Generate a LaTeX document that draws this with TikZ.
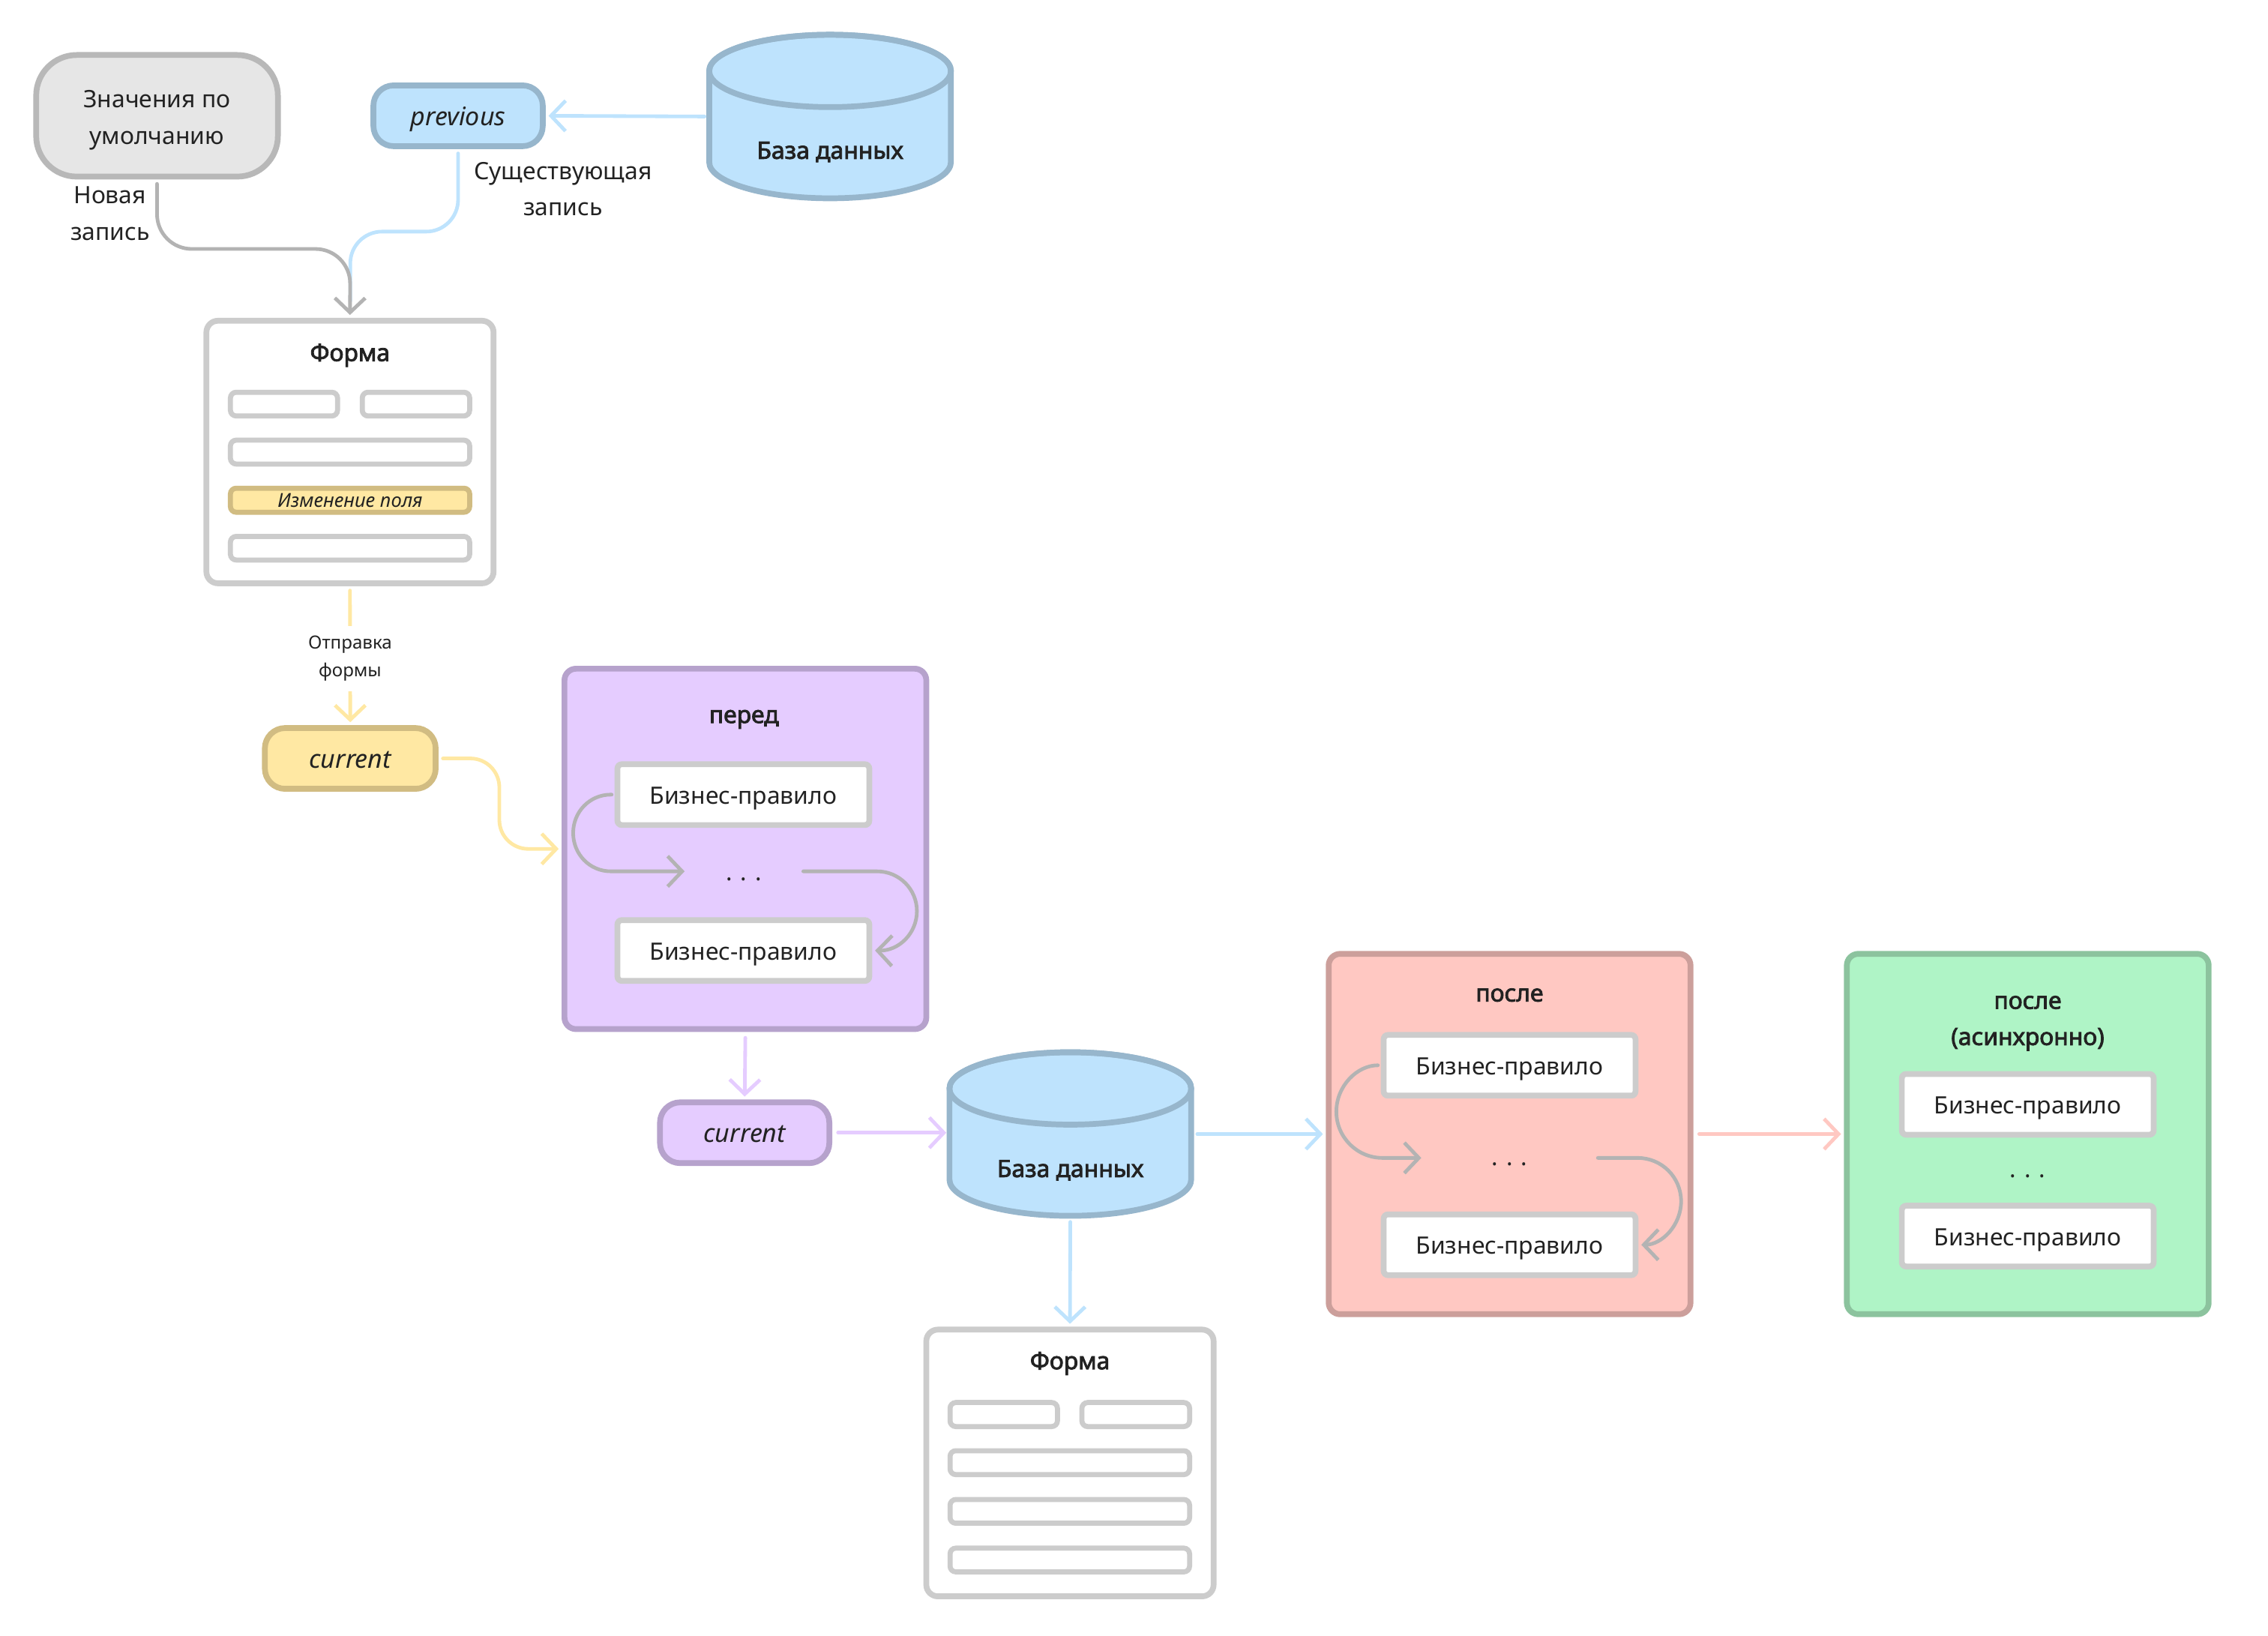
\documentclass[tikz,border=0pt]{standalone}
\usepackage{fontspec}
\setmainfont{Noto Sans}[AutoFakeBold=2.6]
\usetikzlibrary{arrows.meta}
\definecolor{txt}{HTML}{222222}
\definecolor{gfill}{HTML}{E6E6E6}
\definecolor{gdraw}{HTML}{B8B8B8}
\definecolor{bfill}{HTML}{BEE3FD}
\definecolor{bdraw}{HTML}{97B6CC}
\definecolor{yfill}{HTML}{FFE8A3}
\definecolor{ydraw}{HTML}{D1BC82}
\definecolor{pfill}{HTML}{E5CCFF}
\definecolor{pdraw}{HTML}{B6A2CC}
\definecolor{rfill}{HTML}{FFC8C2}
\definecolor{rdraw}{HTML}{CC9F9B}
\definecolor{grfill}{HTML}{AFF4C6}
\definecolor{grdraw}{HTML}{8CC39E}
\definecolor{rulec}{HTML}{CCCCCC}
\definecolor{conn}{HTML}{B3B3B3}
\definecolor{bline}{HTML}{BEE3FD}
\definecolor{yline}{HTML}{FFE8A3}
\definecolor{pline}{HTML}{E5CCFF}
\definecolor{rline}{HTML}{FFC8C2}
\begin{document}
\begin{tikzpicture}[x=1pt,y=-1pt,
  every node/.style={text=txt, inner sep=0pt, align=center},
  txtbase/.style={font=\fontsize{16.5}{25}\selectfont},
  ttl/.style={font=\bfseries\fontsize{16.5}{25}\selectfont},
  ital/.style={font=\itshape\fontsize{17.6}{25}\selectfont},
  smalltxt/.style={font=\fontsize{12.5}{19}\selectfont},
  pill/.style={draw, line width=4pt, rounded corners=14pt, minimum width=117pt, minimum height=42pt, ital, text height=13.5pt, text depth=0pt},
  panel/.style={draw, line width=4pt, rounded corners=8pt, minimum width=250pt, minimum height=249pt},
  formbox/.style={draw=rulec, fill=white, line width=4pt, rounded corners=8pt},
  field/.style={draw=rulec, fill=white, line width=3.5pt, rounded corners=4pt},
  rulebox/.style={draw=rulec, fill=white, line width=4pt, rounded corners=3pt, minimum width=174pt, minimum height=42pt, txtbase, text height=13pt, text depth=0pt},
  dbbody/.style={fill=bfill, draw=bdraw, line width=4pt, line join=round},
  link/.style={line width=2.5pt, line cap=round, line join=round},
  arr/.style={link, -{Straight Barb[length=10pt,width=21pt]}},
]
\useasboundingbox (0,0) rectangle (1567,1129.8);

% ---------- top-left ----------
\node[draw=gdraw, fill=gfill, line width=4pt, rounded corners=28pt, minimum width=167pt, minimum height=84pt] (defaults) at (108.5,80) {};
\node[txtbase] (defaultstxt) at (108.5,83) {Значения по\\умолчанию};
\node[pill, draw=bdraw, fill=bfill] (prev) at (316.5,80) {previous};
\node[txtbase] (newlbl) at (76,147.5) {Новая\\запись};
\node[txtbase] (exlbl) at (389,130.5) {Существующая\\запись};

% database 1
\node[minimum width=167pt, minimum height=113pt] (db1) at (573.5,80.5) {};
\filldraw[dbbody] (490,49) -- (490,112) .. controls (490,125.8) and (527.4,137) .. (573.5,137) .. controls (619.6,137) and (657,125.8) .. (657,112) -- (657,49) .. controls (657,35.2) and (619.6,24) .. (573.5,24) .. controls (527.4,24) and (490,35.2) .. (490,49) -- cycle;
\draw[bdraw, line width=4pt] (573.5,49) ellipse [x radius=83.5pt, y radius=25pt];
\node[ttl] (db1lbl) at (573.5,105) {База данных};

% form 1
\node[formbox, minimum width=198.4pt, minimum height=181.4pt] (form1) at (241.8,312.3) {};
\node[ttl] (form1ttl) at (241.8,245.5) {Форма};
\draw[field] (159.2,271) rectangle (233.2,287.4);
\draw[field] (250.3,271) rectangle (324.5,287.4);
\draw[field] (159.2,304.1) rectangle (324.5,320.6);
\node[field, fill=yfill, draw=ydraw, minimum width=165.3pt, minimum height=16.6pt, font=\itshape\fontsize{13.3}{15}\selectfont] (chg) at (241.85,345.6) {Изменение поля};
\draw[field] (159.2,370.6) rectangle (324.5,386.9);

% current (yellow)
\node[pill, draw=ydraw, fill=yfill, minimum width=118pt] (cur1) at (242,524) {current};

% ---------- перед ----------
\node[panel, draw=pdraw, fill=pfill] (pered) at (515,586.5) {};
\node[ttl] (peredttl) at (514,497) {перед};
\node[rulebox] (pr1) at (513.6,549) {Бизнес-правило};
\node[rulebox] (pr2) at (513.6,656.7) {Бизнес-правило};
\node[txtbase] (pdots) at (514,607.5) {. . .};

% current (purple)
\node[pill, draw=pdraw, fill=pfill] (cur2) at (514.5,782.6) {current};

% database 2
\node[minimum width=167pt, minimum height=113pt] (db2) at (739.5,783.5) {};
\filldraw[dbbody] (656,752) -- (656,815) .. controls (656,828.8) and (693.4,840) .. (739.5,840) .. controls (785.6,840) and (823,828.8) .. (823,815) -- (823,752) .. controls (823,738.2) and (785.6,727) .. (739.5,727) .. controls (693.4,727) and (656,738.2) .. (656,752) -- cycle;
\draw[bdraw, line width=4pt] (739.5,752) ellipse [x radius=83.5pt, y radius=25pt];
\node[ttl] (db2lbl) at (739.5,808.5) {База данных};

% form 2
\node[formbox, minimum width=198.5pt, minimum height=184.3pt] (form2) at (739.25,1010.75) {};
\node[ttl] (form2ttl) at (739.25,942) {Форма};
\draw[field] (656.4,969) rectangle (730.6,985.6);
\draw[field] (747.5,969) rectangle (821.9,985.6);
\draw[field] (656.4,1002.3) rectangle (821.9,1018.8);
\draw[field] (656.4,1036) rectangle (821.9,1052.4);
\draw[field] (656.4,1069.6) rectangle (821.9,1086);

% ---------- после ----------
\node[panel, draw=rdraw, fill=rfill] (posle) at (1043,783.5) {};
\node[ttl] (posttl) at (1043,687.5) {после};
\node[rulebox] (ps1) at (1043,736) {Бизнес-правило};
\node[rulebox] (ps2) at (1043,860) {Бизнес-правило};
\node[txtbase] (psdots) at (1043,804.5) {. . .};

% ---------- после (асинхронно) ----------
\node[panel, draw=grdraw, fill=grfill] (async) at (1401,783.5) {};
\node[ttl] (asyncttl) at (1401,707) {после\\(асинхронно)};
\node[rulebox] (as1) at (1401,763) {Бизнес-правило};
\node[rulebox] (as2) at (1401,854) {Бизнес-правило};
\node[txtbase] (asdots) at (1401,812.5) {. . .};

% ---------- connectors ----------
\coordinate (j1) at (242,172);
\coordinate (j2) at (316.5,160);
\coordinate (j3) at (242,160);
\coordinate (j4) at (242,208);
\draw[link, bline, rounded corners=22pt, shorten <=3pt] (prev.south) -- (j2) -- (j3) -- (j4);
\draw[arr, conn, rounded corners=24pt, shorten <=3pt, shorten >=2pt] (defaults.south) |- (j1) -- (form1.north);
\draw[arr, bline, shorten <=3pt, shorten >=2pt] (db1.west) -- (prev.east);

\draw[arr, yline, shorten <=3pt, shorten >=2pt] (form1.south) -- node[smalltxt, fill=white, inner xsep=2pt, inner ysep=7pt, yshift=-2pt] (sendlbl) {Отправка\\формы} (cur1.north);

\coordinate (j5) at (345,586.5);
\draw[arr, yline, rounded corners=20pt, shorten <=3pt, shorten >=2pt] (cur1.east) -| (j5) -- (pered.west);

% loops in "перед"
\coordinate (pd1) at (473,602);
\coordinate (pd2) at (555,602);
\draw[arr, conn, shorten <=2pt] (pr1.west) -- (422,549) .. controls (407.4,549) and (396,560.9) .. (396,575.5) .. controls (396,590.1) and (407.4,602) .. (422,602) -- (pd1);
\draw[arr, conn, shorten >=2pt] (pd2) -- (606,602) .. controls (621.2,602) and (633.5,614.3) .. (633.5,629.5) .. controls (633.5,644.7) and (621.2,657) .. (pr2.east);

\draw[arr, pline, shorten <=4pt, shorten >=2pt] (pered.south) -- (cur2.north);
\draw[arr, pline, shorten <=4pt, shorten >=2pt] (cur2.east) -- (cur2.east -| db2.west);
\draw[arr, bline, shorten <=4pt, shorten >=2pt] (db2.east) -- (posle.west);
\draw[arr, bline, shorten <=4pt, shorten >=2pt] (db2.south) -- (form2.north);
\draw[arr, rline, shorten <=4pt, shorten >=2pt] (posle.east) -- (async.west);

% loops in "после"
\coordinate (pd3) at (982,800);
\coordinate (pd4) at (1104,800);
\draw[arr, conn, shorten <=2pt] (ps1.west) .. controls (937.6,736) and (923.3,750.3) .. (923.3,768) .. controls (923.3,785.7) and (937.6,800) .. (955.3,800) -- (pd3);
\draw[arr, conn, shorten >=2pt] (pd4) -- (1131.5,800) .. controls (1148.1,800) and (1161.5,813.4) .. (1161.5,830) .. controls (1161.5,846.6) and (1148.1,860) .. (ps2.east);
\end{tikzpicture}
\end{document}
